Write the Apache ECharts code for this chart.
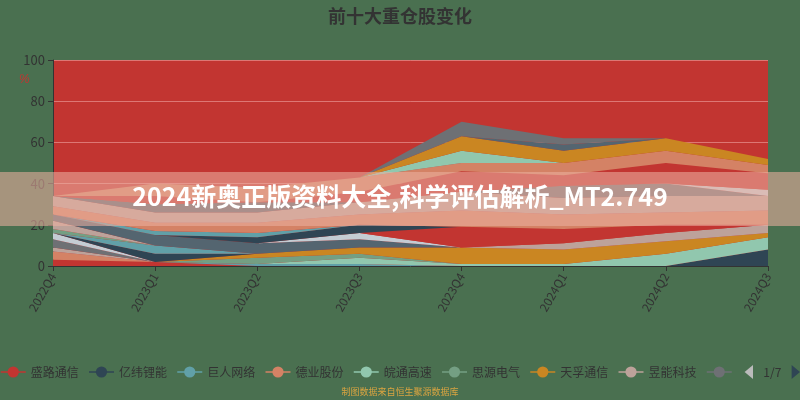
<!DOCTYPE html>
<html><head><meta charset="utf-8">
<script src="https://cdn.jsdelivr.net/npm/echarts@6/dist/echarts.min.js"></script>
<style>html,body{margin:0;padding:0;background:#4a7050}#c{width:800px;height:400px}</style>
</head><body><div id="c"></div>
<script>
// ---- data ----
const quarters = ['2022Q4','2023Q1','2023Q2','2023Q3','2023Q4','2024Q1','2024Q2','2024Q3'];
const yTicks = [0, 20, 40, 60, 80, 100];
const stockNames = ['盛路通信','亿纬锂能','巨人网络','德业股份','皖通高速','思源电气','天孚通信','昱能科技','中际旭创','光迅科技',
  '工业富联','沪电股份','紫光国微','中兴通讯','宁德时代','阳光电源','隆基绿能','贵州茅台','招商银行','中国移动',
  '中国电信','中国联通','浪潮信息','中科曙光','海光信息','金山办公','科大讯飞','三七互娱','完美世界','恺英网络',
  '昆仑万维','长江电力','中国神华','紫金矿业','万华化学','美的集团','格力电器','海尔智家','立讯精密','东方财富',
  '北方华创','中微公司','韦尔股份','兆易创新','汇川技术','迈瑞医疗','恒瑞医药','药明康德','爱尔眼科','云南白药',
  '伊利股份','海天味业','牧原股份'];
// weight (%) of each stock per quarter
const w00=[3,2,0,0,0,0,0,0], w01=[0,0,0,0,0,0,0,8], w02=[0,0,1,1,0,0,0,0], w03=[4,0,0,0,0,0,0,0];
const w04=[0,0,0,3,1,1,6,6], w05=[0,0,3,2,0,0,0,0], w06=[0,0,2,3,8,7,6,2], w07=[2,0,0,0,0,0,0,0];
const w08=[4,0,0,0,0,0,0,0], w09=[0,0,0,0,0,0,0,0], w10=[3,0,0,0,0,0,0,0], w11=[0,0,0,0,0,0,0,0];
const w12=[0,4,0,0,0,0,0,0], w13=[0,4,0,0,0,0,0,0], w14=[0,0,0,0,0,0,0,0], w15=[0,0,0,0,0,0,0,0];
const w16=[2,0,0,0,0,0,0,0], w17=[0,0,0,0,0,0,0,0], w18=[4,0,0,0,0,3,4,4], w19=[0,0,0,0,0,0,0,0];
const w20=[3,5,5,4,0,0,0,0], w21=[0,0,0,3,0,0,0,0], w22=[0,0,0,0,10,7,4,0], w23=[0,0,3,4,0,0,0,0];
const w24=[0,2,2,0,0,0,0,0], w25=[4,4,5,5,8,7,6,7], w26=[0,0,0,0,0,0,0,0], w27=[0,0,0,0,0,0,0,0];
const w28=[0,0,0,0,0,0,0,0], w29=[5,5,5,6,9,8,8,7], w30=[0,0,0,0,0,6,6,0], w31=[0,4,5,0,0,0,0,0];
const w32=[0,0,0,0,0,0,0,3], w33=[0,4,0,5,10,5,10,8], w34=[0,0,0,0,0,0,0,0], w35=[0,0,0,0,0,0,0,0];
const w36=[0,6,7,7,4,6,6,4], w37=[0,0,0,0,6,0,0,0], w38=[0,0,0,0,0,0,0,0], w39=[0,0,0,0,7,6,6,3];
const w40=[0,0,0,0,0,0,0,0], w41=[0,0,0,0,0,0,0,0], w42=[0,0,0,0,0,3,0,0], w43=[0,0,0,0,0,0,0,0];
const w44=[0,0,0,0,0,0,0,0], w45=[0,0,0,0,0,0,0,0], w46=[0,0,0,0,0,0,0,0], w47=[0,0,0,0,0,0,0,0];
const w48=[0,0,0,0,0,0,0,0], w49=[0,0,0,0,0,0,0,0], w50=[0,0,0,0,0,0,0,0], w51=[0,0,0,0,0,0,0,0];
const w52=[0,0,0,0,7,3,0,0];
const weights=[w00,w01,w02,w03,w04,w05,w06,w07,w08,w09,w10,w11,w12,w13,w14,w15,w16,w17,w18,w19,
  w20,w21,w22,w23,w24,w25,w26,w27,w28,w29,w30,w31,w32,w33,w34,w35,w36,w37,w38,w39,
  w40,w41,w42,w43,w44,w45,w46,w47,w48,w49,w50,w51,w52];
const palette=['#c23531','#2f4554','#61a0a8','#d48265','#91c7ae','#749f83','#ca8622','#bda29a','#6e7074','#546570','#c4ccd3'];

const chart = echarts.init(document.getElementById('c'), null, {renderer:'canvas'});
const font = 'Noto Sans CJK SC, Noto Sans, sans-serif';
chart.setOption({
  backgroundColor:'#4a7050',
  color: palette,
  animation:false,
  textStyle:{fontFamily:font},
  title:{text:'前十大重仓股变化', left:'center', top:2,
    textStyle:{fontSize:18, fontWeight:'bold', color:'#333', fontFamily:font}},
  grid:{left:53, right:32, top:60, bottom:134, show:true, backgroundColor:'#c23531', borderWidth:0},
  legend:{type:'scroll', left:0, right:0, top:360, itemGap:9.5, padding:[5,0,5,0],
    textStyle:{fontSize:12, color:'#333', fontFamily:font},
    lineStyle:{width:1.5},
    pageIconColor:'#2f4554', pageIconInactiveColor:'#bbb', pageIconSize:14,
    pageTextStyle:{color:'#333', fontSize:12},
    data: stockNames},
  xAxis:{type:'category', boundaryGap:false, data:quarters,
    axisLine:{lineStyle:{color:'#333'}}, axisTick:{show:true, lineStyle:{color:'#333'}},
    axisLabel:{rotate:60, color:'#333', fontSize:12, fontFamily:font}},
  yAxis:{type:'value', min:yTicks[0], max:yTicks[yTicks.length-1], interval:20,
    axisLine:{show:true, lineStyle:{color:'#333'}}, axisTick:{show:true, lineStyle:{color:'#333'}},
    axisLabel:{color:'#333', fontSize:13, fontFamily:font},
    splitLine:{lineStyle:{color:'rgba(255,200,200,0.45)'}}},
  series: stockNames.map((n,i)=>({name:n, type:'line', stack:'total', data:weights[i],
    symbol:'circle', showSymbol:false, lineStyle:{width:0}, areaStyle:{opacity:1}})),
  graphic:[
    {type:'text', left:19, top:74, style:{text:'%', fill:'#c23531', font:'italic 12px sans-serif'}},
    {type:'rect', left:0, top:172, shape:{width:800, height:54}, style:{fill:'rgba(235,175,160,0.57)'}, z:100},
    {type:'text', left:'center', top:184, z:101,
      style:{text:'2024新奥正版资料大全,科学评估解析_MT2.749', fill:'#fff', font:'bold 25px "Noto Sans CJK SC", sans-serif'}},
    {type:'text', left:'center', top:387, style:{text:'制图数据来自恒生聚源数据库', fill:'#d9a441', font:'9px "Noto Sans CJK SC", sans-serif'}}
  ]
});
</script></body></html>
